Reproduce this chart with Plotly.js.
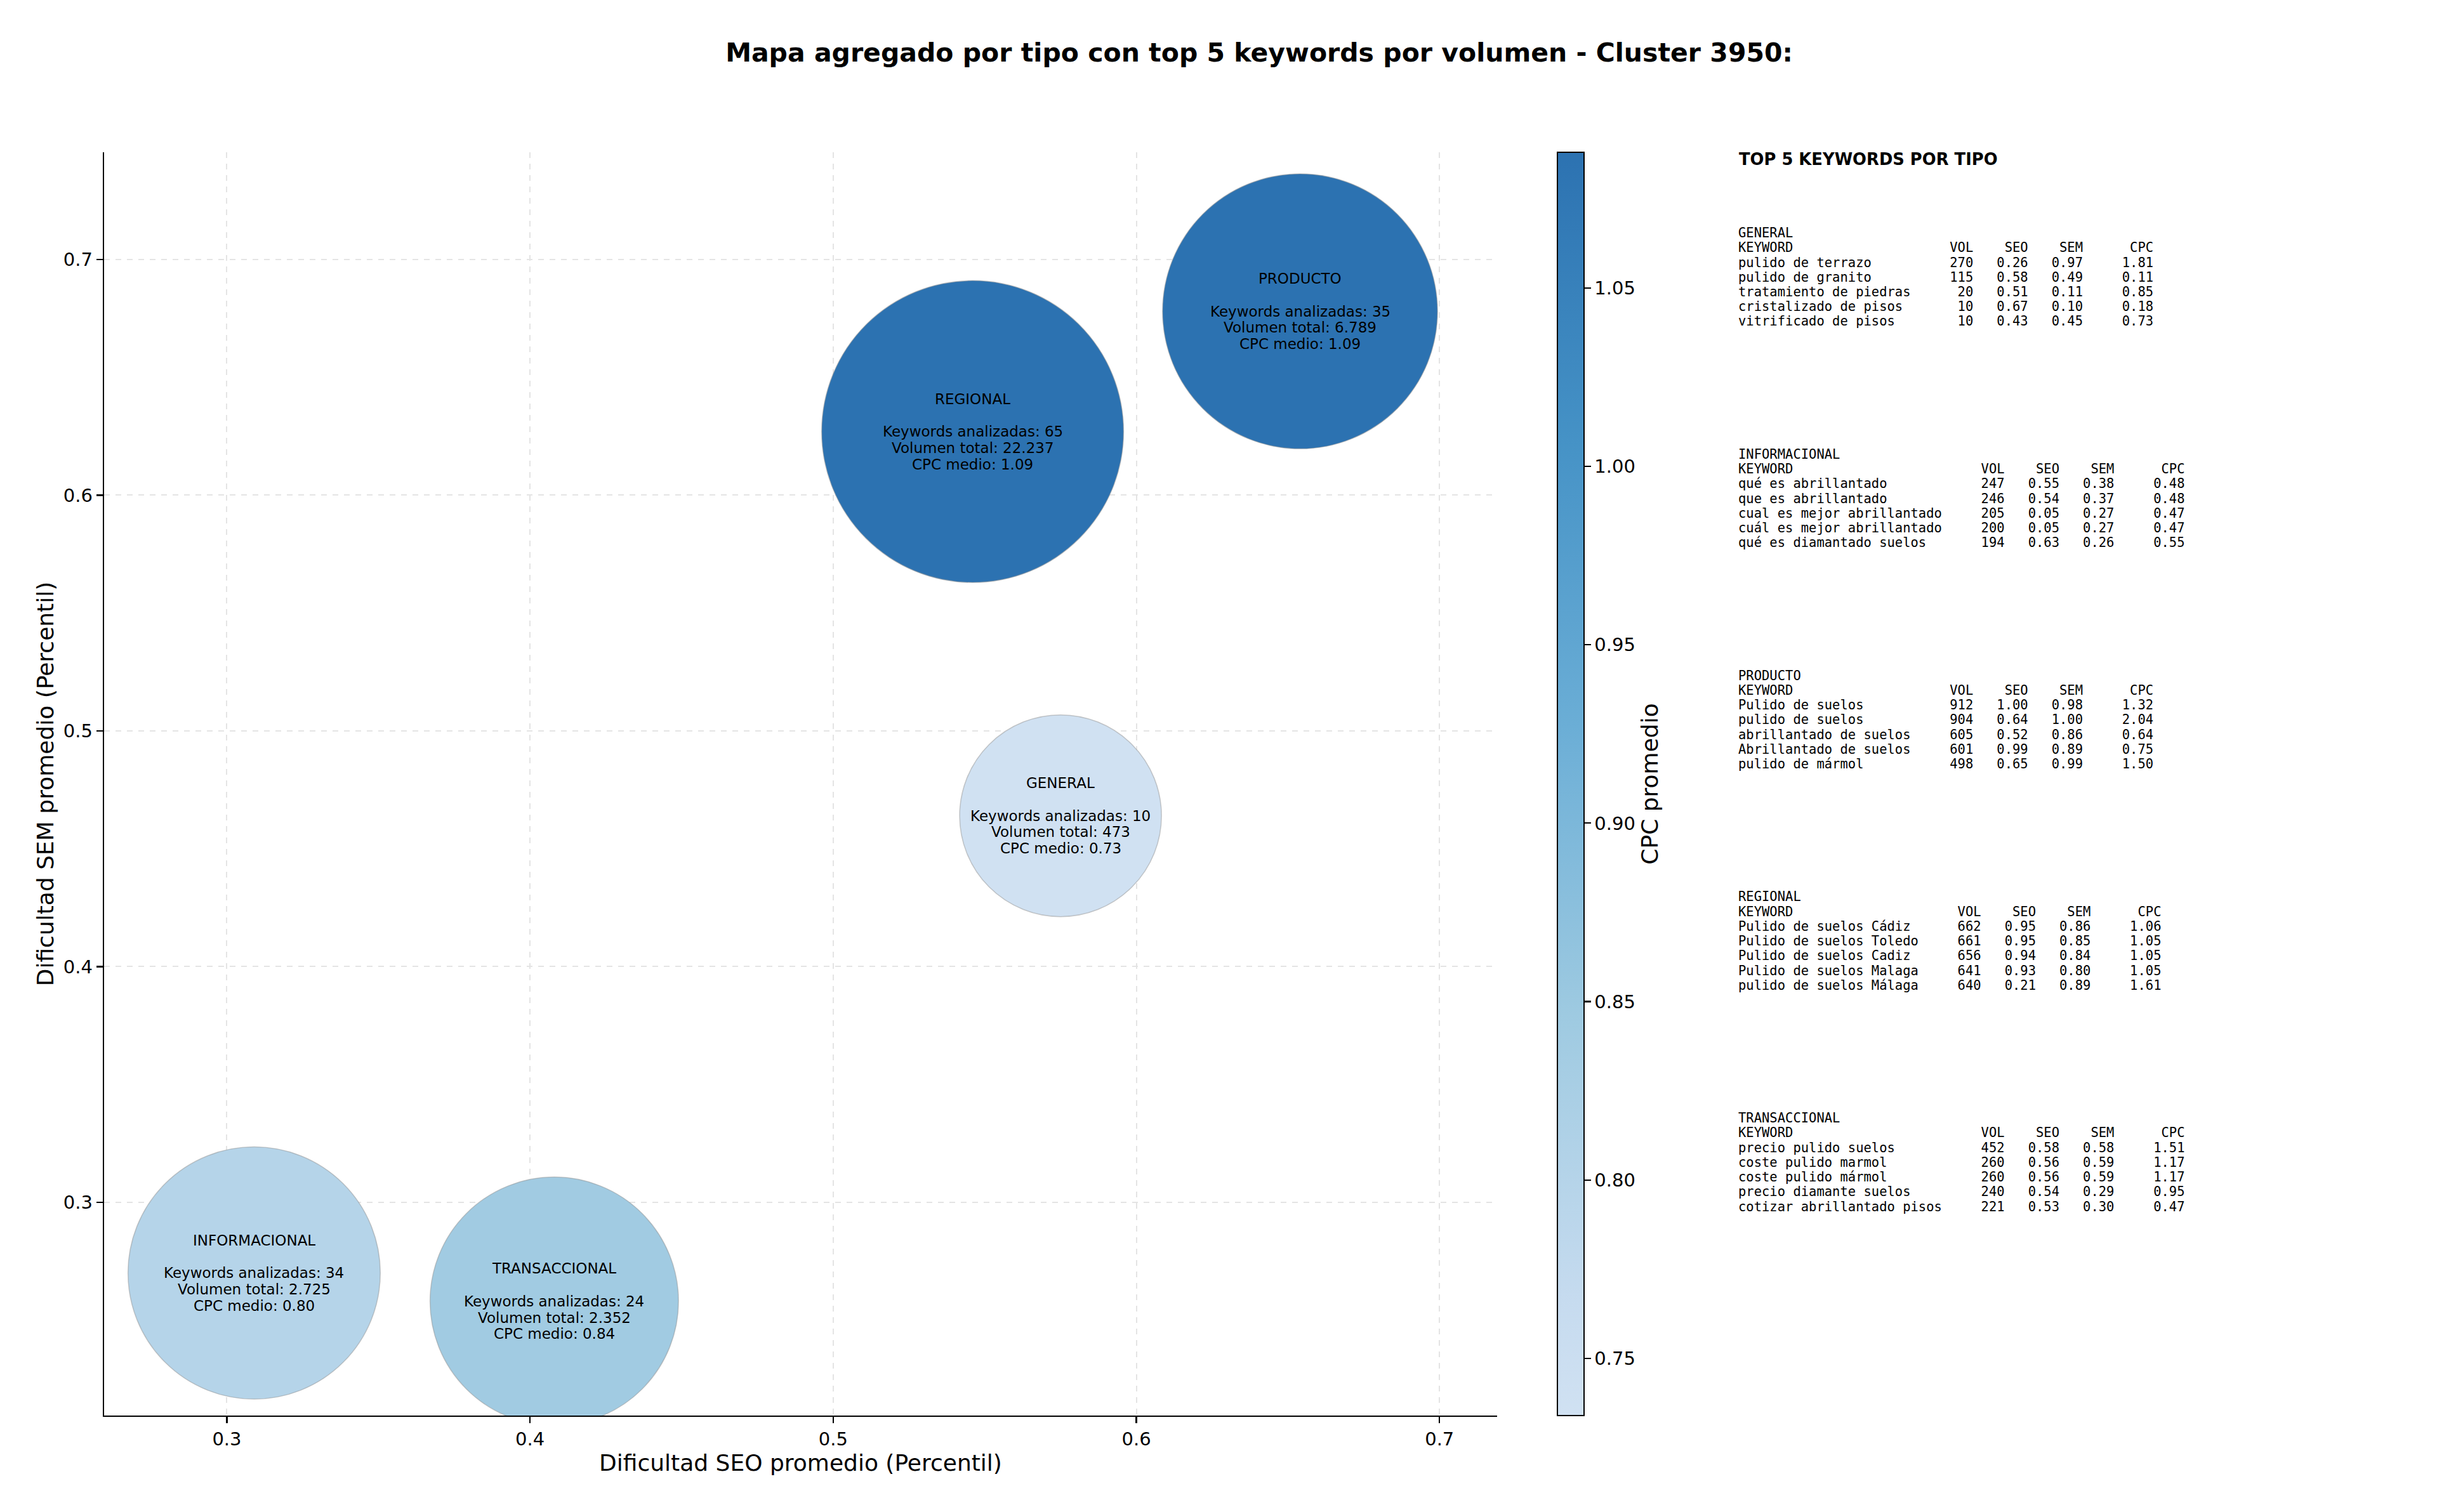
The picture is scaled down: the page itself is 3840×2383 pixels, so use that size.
<!DOCTYPE html>
<html>
<head>
<meta charset="utf-8">
<script src="https://cdn.plot.ly/plotly-3.0.1.min.js"></script>
<style>html,body{margin:0;padding:0;background:#fff;}#chart{width:3840px;height:2383px;}</style>
</head>
<body>
<div id="chart"></div>
<script>
// ---- Aggregated data per type ----
const tipos = ['GENERAL', 'INFORMACIONAL', 'PRODUCTO', 'REGIONAL', 'TRANSACCIONAL'];
const seoPromedio = [0.575, 0.309, 0.654, 0.546, 0.408];
const semPromedio = [0.464, 0.270, 0.678, 0.627, 0.258];
const keywordsAnalizadas = [10, 34, 35, 65, 24];
const volumenTotal = [473, 2725, 6789, 22237, 2352];
const cpcMedio = [0.73, 0.80, 1.09, 1.09, 0.84];

// ---- Top 5 keywords per type ----
const kwGeneral = ['pulido de terrazo', 'pulido de granito', 'tratamiento de piedras', 'cristalizado de pisos', 'vitrificado de pisos'];
const volGeneral = [270, 115, 20, 10, 10];
const seoGeneral = [0.26, 0.58, 0.51, 0.67, 0.43];
const semGeneral = [0.97, 0.49, 0.11, 0.10, 0.45];
const cpcGeneral = [1.81, 0.11, 0.85, 0.18, 0.73];

const kwInformacional = ['qué es abrillantado', 'que es abrillantado', 'cual es mejor abrillantado', 'cuál es mejor abrillantado', 'qué es diamantado suelos'];
const volInformacional = [247, 246, 205, 200, 194];
const seoInformacional = [0.55, 0.54, 0.05, 0.05, 0.63];
const semInformacional = [0.38, 0.37, 0.27, 0.27, 0.26];
const cpcInformacional = [0.48, 0.48, 0.47, 0.47, 0.55];

const kwProducto = ['Pulido de suelos', 'pulido de suelos', 'abrillantado de suelos', 'Abrillantado de suelos', 'pulido de mármol'];
const volProducto = [912, 904, 605, 601, 498];
const seoProducto = [1.00, 0.64, 0.52, 0.99, 0.65];
const semProducto = [0.98, 1.00, 0.86, 0.89, 0.99];
const cpcProducto = [1.32, 2.04, 0.64, 0.75, 1.50];

const kwRegional = ['Pulido de suelos Cádiz', 'Pulido de suelos Toledo', 'Pulido de suelos Cadiz', 'Pulido de suelos Malaga', 'pulido de suelos Málaga'];
const volRegional = [662, 661, 656, 641, 640];
const seoRegional = [0.95, 0.95, 0.94, 0.93, 0.21];
const semRegional = [0.86, 0.85, 0.84, 0.80, 0.89];
const cpcRegional = [1.06, 1.05, 1.05, 1.05, 1.61];

const kwTransaccional = ['precio pulido suelos', 'coste pulido marmol', 'coste pulido mármol', 'precio diamante suelos', 'cotizar abrillantado pisos'];
const volTransaccional = [452, 260, 260, 240, 221];
const seoTransaccional = [0.58, 0.56, 0.56, 0.54, 0.53];
const semTransaccional = [0.58, 0.59, 0.59, 0.29, 0.30];
const cpcTransaccional = [1.51, 1.17, 1.17, 0.95, 0.47];

const headerCols = ['KEYWORD', 'VOL', 'SEO', 'SEM', 'CPC'];

// ---- helpers ----
function fmtMiles(v) { return String(v).replace(/\B(?=(\d{3})+(?!\d))/g, '.'); }
const NB = '\u00A0';
function nb(s) { return s.replace(/ /g, NB); }

// bubble diameter (px) from total volume: log scale
function bubbleSize(v) { return Math.sqrt(-99044 + 32500 * Math.log(v)); }

// Blues-like scale (truncated)
const colorscale = [
  [0.0, '#d0e1f2'], [0.0909, '#c6dbef'], [0.318, '#9ecae1'],
  [0.545, '#6baed6'], [0.773, '#4592c6'], [1.0, '#2c72b1']
];

const trace = {
  type: 'scatter', mode: 'markers',
  x: seoPromedio, y: semPromedio,
  hoverinfo: 'skip',
  marker: {
    size: volumenTotal.map(bubbleSize),
    sizemode: 'diameter',
    color: cpcMedio,
    colorscale: colorscale,
    cmin: 0.734, cmax: 1.088,
    opacity: 1,
    line: { color: 'rgba(150,150,150,0.5)', width: 1.5 },
    showscale: true,
    colorbar: {
      x: 1.0433, xanchor: 'left', xref: 'paper',
      y: 0.5, yanchor: 'middle', len: 1, lenmode: 'fraction',
      thickness: 42, xpad: 0, ypad: 0,
      outlinecolor: '#000', outlinewidth: 2,
      ticks: 'outside', ticklen: 10, tickwidth: 2.2, tickcolor: '#000',
      tick0: 0.75, dtick: 0.05, tickformat: '.2f',
      tickfont: { family: 'DejaVu Sans', size: 29, color: '#000' },
      title: { text: 'CPC promedio', side: 'right', font: { family: 'DejaVu Sans', size: 36, color: '#000' } }
    }
  }
};

// ---- geometry ----
const L = 164, R = 2359, T = 240, B = 2231;
const PW = R - L, PH = B - T;
function px2x(px) { return (px - L) / PW; }
function px2y(py) { return 1 - (py - T) / PH; }

const annotations = [];

// bubble labels (one annotation per line, anchored to the data point)
const bubbleLineH = 25.7;
tipos.forEach((t, i) => {
  const lines = [t, null,
    `Keywords analizadas: ${keywordsAnalizadas[i]}`,
    `Volumen total: ${fmtMiles(volumenTotal[i])}`,
    `CPC medio: ${cpcMedio[i].toFixed(2)}`];
  lines.forEach((ln, j) => {
    if (ln === null) return;
    annotations.push({
      xref: 'x', yref: 'y', x: seoPromedio[i], y: semPromedio[i],
      yshift: (2 - j) * bubbleLineH,
      xanchor: 'center', yanchor: 'middle', showarrow: false, borderpad: 0,
      text: ln,
      font: { family: 'DejaVu Sans', size: 23, color: '#000' }
    });
  });
});

// tables
const tables = [
  ['GENERAL', kwGeneral, volGeneral, seoGeneral, semGeneral, cpcGeneral],
  ['INFORMACIONAL', kwInformacional, volInformacional, seoInformacional, semInformacional, cpcInformacional],
  ['PRODUCTO', kwProducto, volProducto, seoProducto, semProducto, cpcProducto],
  ['REGIONAL', kwRegional, volRegional, seoRegional, semRegional, cpcRegional],
  ['TRANSACCIONAL', kwTransaccional, volTransaccional, seoTransaccional, semTransaccional, cpcTransaccional]
];

annotations.push({
  xref: 'paper', yref: 'paper', x: px2x(2738), y: px2y(251),
  xanchor: 'left', yanchor: 'middle', showarrow: false,
  text: '<b>TOP 5 KEYWORDS POR TIPO</b>',
  font: { family: 'DejaVu Sans', size: 25.8, color: '#000' }
});

const lineH = 23.25, startY = 367;
tables.forEach((tb, i) => {
  const [name, kws, vols, seos, sems, cpcs] = tb;
  const w = Math.max(...kws.map(k => k.length), headerCols[0].length);
  const lines = [name];
  lines.push(headerCols[0].padEnd(w) + headerCols[1].padStart(8) + headerCols[2].padStart(7) + headerCols[3].padStart(7) + headerCols[4].padStart(9));
  kws.forEach((k, j) => {
    lines.push(k.padEnd(w) + String(vols[j]).padStart(8) + seos[j].toFixed(2).padStart(7) + sems[j].toFixed(2).padStart(7) + cpcs[j].toFixed(2).padStart(9));
  });
  lines.forEach((ln, j) => {
    annotations.push({
      xref: 'paper', yref: 'paper', x: px2x(2738), y: px2y(startY + (15 * i + j) * lineH),
      xanchor: 'left', yanchor: 'middle', showarrow: false, borderpad: 0,
      text: nb(ln),
      font: { family: 'DejaVu Sans Mono', size: 20.5, color: '#000' }
    });
  });
});

const axisCommon = {
  showline: true, linecolor: '#000', linewidth: 2.3, mirror: false,
  ticks: 'outside', ticklen: 10, tickwidth: 2.3, tickcolor: '#000',
  showgrid: true, gridcolor: '#e4e4e4', gridwidth: 2, griddash: 'dash',
  zeroline: false, tickformat: '.1f', dtick: 0.1, tick0: 0.3,
  tickfont: { family: 'DejaVu Sans', size: 29, color: '#000' }
};

const layout = {
  width: 3840, height: 2383,
  margin: { l: L, r: 3840 - R, t: T, b: 2383 - B, pad: 0 },
  paper_bgcolor: '#fff', plot_bgcolor: '#fff',
  showlegend: false,
  font: { family: 'DejaVu Sans', color: '#000' },
  title: {
    text: '<b>Mapa agregado por tipo con top 5 keywords por volumen - Cluster 3950:</b>',
    xref: 'paper', x: px2x(1984), xanchor: 'center',
    yref: 'container', y: 1 - 83 / 2383, yanchor: 'middle',
    font: { family: 'DejaVu Sans', size: 41, color: '#000' }
  },
  xaxis: Object.assign({}, axisCommon, {
    range: [0.2595, 0.719],
    title: { text: 'Dificultad SEO promedio (Percentil)', standoff: 9, font: { family: 'DejaVu Sans', size: 36, color: '#000' } }
  }),
  yaxis: Object.assign({}, axisCommon, {
    range: [0.2095, 0.7455],
    title: { text: 'Dificultad SEM promedio (Percentil)', standoff: 4, font: { family: 'DejaVu Sans', size: 36, color: '#000' } }
  }),
  annotations: annotations
};

Plotly.newPlot('chart', [trace], layout, { staticPlot: true, displayModeBar: false });
</script>
</body>
</html>
